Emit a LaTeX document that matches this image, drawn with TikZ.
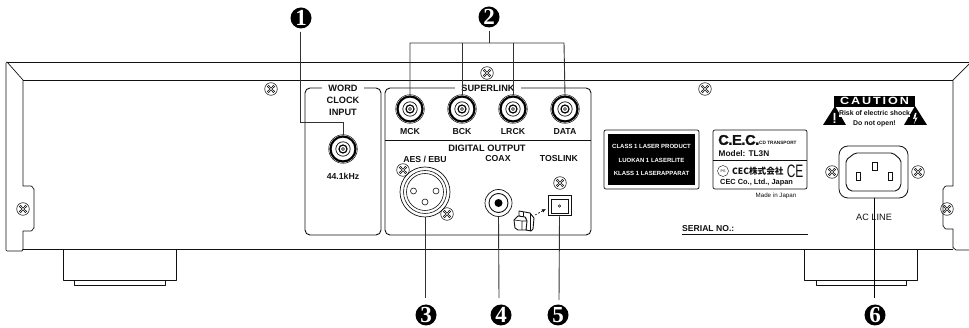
\documentclass[tikz,border=0pt]{standalone}
\usepackage{fontspec}
\setmainfont{Liberation Sans}
\newfontfamily\numfont{Liberation Serif}
\newfontfamily\cjkfont{Noto Sans CJK JP}
\usetikzlibrary{arrows.meta}
\definecolor{ink}{HTML}{111111}
\definecolor{lead}{HTML}{333333}
\tikzset{
 x=1pt,y=-1pt,
 body/.style={draw=ink,line width=0.7pt,line join=round},
 leader/.style={draw=lead,line width=0.9pt},
 callout/.style={circle,fill=black,text=white,inner sep=0pt,minimum size=21pt,font=\numfont\bfseries\fontsize{23}{23}\selectfont},
 lab/.style={inner sep=0pt,font=\bfseries\fontsize{8.7}{9}\selectfont,text=ink},
 panellab/.style={lab,fill=white,inner ysep=1pt},
 wlab/.style={inner sep=0pt,text=white,font=\bfseries\fontsize{6}{7}\selectfont},
}
\newcommand{\screw}[2]{%
 \draw[ink,line width=0.55pt] (#1,#2) circle[radius=6.3];
 \draw[ink,line width=0.55pt,line join=round] (#1-1,#2) -- (#1-3.6,#2-2.4) -- (#1-2.4,#2-3.6) -- (#1,#2-1) -- (#1+2.4,#2-3.6) -- (#1+3.6,#2-2.4) -- (#1+1,#2) -- (#1+3.6,#2+2.4) -- (#1+2.4,#2+3.6) -- (#1,#2+1) -- (#1-2.4,#2+3.6) -- (#1-3.6,#2+2.4) -- cycle;
}
\newcommand{\bnc}[3]{%
 \node[circle,draw=black,line width=2.2pt,fill=white,minimum size=25pt,inner sep=0pt] (#3) at (#1,#2) {};
 \draw[ink,line width=0.5pt] (#1,#2) circle[radius=14.3];
 \draw[ink,line width=0.7pt] (#1,#2) circle[radius=7.2];
 \draw[black,line width=1.2pt] (#1,#2) circle[radius=4];
 \draw[black,line width=0.6pt] (#1,#2) circle[radius=1.5];
}
\begin{document}
\begin{tikzpicture}
\useasboundingbox (0,0) rectangle (969,328);
% chassis
\draw[body] (23,80) -- (953,80);
\draw[body] (7,62) -- (969,62);
\draw[body] (6,63) -- (6,250) to[out=90,in=180] (7,251) -- (22,251) -- (23,249) -- (23,231) -- (31,231) to[out=0,in=90] (34,228) -- (34,189) to[out=-90,in=0] (31,186) -- (23,186) -- (23,80) -- (7,62) -- (6,63);
\draw[body] (23,249) -- (953,249);
\draw[body] (953,80) -- (953,186) -- (946,186) to[out=180,in=-90] (943,189) -- (943,226) to[out=90,in=180] (946,229) -- (953,229) -- (953,248) to[out=90,in=180] (956,250) -- (969,250);
\draw[body] (953,80) -- (969,64);
\draw[body] (63.5,249) -- (63.5,280) -- (176,280) -- (176,249);
\draw[body] (74.5,280) -- (74.5,285) -- (165,285) -- (165,280);
\draw[body] (804,249) -- (804,280) -- (917,280) -- (917,249);
\draw[body] (816,280) -- (816,285) -- (906,285) -- (906,280);
\screw{23}{209}\screw{271}{89}\screw{487}{73}\screw{705}{89}\screw{947}{209}
% panels
\draw[body,line width=0.9pt,rounded corners=5pt] (305,88) rectangle (381,235);
\draw[body,line width=0.9pt,rounded corners=5pt] (385,88) rectangle (591,235);
\draw[body,line width=0.9pt] (385,140) -- (591,140);
\node[panellab,inner xsep=6pt,font=\bfseries\fontsize{9.2}{10}\selectfont] (wc1) at (343,88) {WORD};
\node[lab,font=\bfseries\fontsize{9.2}{10}\selectfont] (wc2) at (343,100) {CLOCK};
\node[lab,font=\bfseries\fontsize{9.2}{10}\selectfont] (wc3) at (343,112) {INPUT};
\node[lab] (wc4) at (343,176) {44.1kHz};
\node[panellab,inner xsep=6pt,font=\bfseries\fontsize{9.2}{10}\selectfont] (sl) at (488,88) {SUPERLINK};
\bnc{343}{149}{wcin}
\bnc{410}{109}{mck}
\bnc{462}{109}{bck}
\bnc{513}{109}{lrck}
\bnc{565}{109}{data}
\node[lab] at (410,132) {MCK};
\node[lab] at (462,132) {BCK};
\node[lab] at (513,132) {LRCK};
\node[lab] at (565,132) {DATA};
\node[lab,font=\bfseries\fontsize{9.3}{10}\selectfont] at (487,148) {DIGITAL OUTPUT};
\node[lab] at (425,159) {AES / EBU};
\node[lab] at (498,159) {COAX};
\node[lab] at (559,159) {TOSLINK};
% XLR
\node[circle,draw=ink,line width=0.7pt,fill=white,minimum size=50pt,inner sep=0pt] (xlr) at (425,192) {};
\draw[ink,line width=0.6pt] (425,192) circle[radius=21.5] (425,192) circle[radius=18.5];
\draw[ink,line width=0.6pt] (413.5,191) circle[radius=3] (436,191) circle[radius=3] (425,202) circle[radius=3];
\screw{403}{170}\screw{447}{214}
% coax
\node[circle,draw=ink,line width=0.7pt,minimum size=27pt,inner sep=0pt] (coax) at (498.5,203) {};
\draw[ink,line width=0.9pt] (498.5,203) circle[radius=9.5];
\fill[black] (498.5,203) circle[radius=4];
% toslink
\node[draw=ink,line width=1pt,minimum width=23pt,minimum height=20pt,inner sep=0pt] (tos) at (559.5,206) {};
\draw[ink,line width=0.5pt] (551,199) rectangle (568,213);
\draw[ink,line width=0.5pt] (559.5,206) circle[radius=1.2];
\screw{560}{183}
% plug clip
\draw[ink,line width=0.9pt,fill=white,line join=round] (519,211) -- (530,213) -- (534,218) -- (533,229) -- (531,231) -- (526,230) -- (526,218) -- (519,216) -- cycle;
\draw[ink,line width=0.6pt] (523,212) -- (523,217) (530,213) -- (530,231);
\draw[ink,line width=0.9pt,fill=white,line join=round] (514,220) -- (518,216) -- (525,217) -- (527,221) -- (526,230) -- (518,230) -- (515,228) -- cycle;
\draw[ink,line width=0.6pt] (514,220) -- (522,221) -- (527,221) (522,221) -- (522,230);
\coordinate (clip) at (535,215);
\coordinate (tosin) at (546,209);
\draw[ink,line width=0.6pt,dash pattern=on 2pt off 1.5pt,-{Latex[length=4pt,width=3.5pt]}] (clip) -- (tosin);
% laser label
\draw[ink,line width=0.7pt,rounded corners=2pt] (604,130) rectangle (699,189);
\node[fill=black,minimum width=87pt,minimum height=51pt,inner sep=0pt] (laser) at (651.5,159.5) {};
\node[wlab] at (651.5,146) {CLASS 1 LASER PRODUCT};
\node[wlab] at (651.5,160) {LUOKAN 1 LASERLITE};
\node[wlab] at (651.5,173) {KLASS 1 LASERAPPARAT};
% CEC label
\draw[ink,line width=0.7pt,rounded corners=2pt] (713,130) rectangle (807,189);
\draw[ink,line width=0.7pt] (713,160) -- (807,160);
\node[lab,anchor=west,font=\bfseries\fontsize{14}{14}\selectfont\addfontfeature{FakeBold=1.5,LetterSpace=-3},xscale=1.05] at (718,140) {C.E.C.};
\node[lab,anchor=west,font=\bfseries\fontsize{4.7}{5}\selectfont] at (759,142.7) {CD TRANSPORT};
\node[lab,anchor=west,font=\bfseries\fontsize{8.3}{9}\selectfont] at (718.5,154) {Model: TL3N};
\draw[ink,line width=0.4pt] (723,171) circle[radius=5.5];
\node[inner sep=0pt,font=\fontsize{3.6}{4}\selectfont] at (723,171) {PS};
\node[lab,anchor=west,font=\cjkfont\bfseries\fontsize{8.6}{10}\selectfont] at (732,171) {CEC株式会社};
\node[lab,font=\fontsize{18}{18}\selectfont\mdseries,xscale=0.66] at (795,171) {CE};
\node[lab,anchor=west,font=\bfseries\fontsize{7.4}{8}\selectfont] at (720,183) {CEC Co., Ltd., Japan};
\node[lab,font=\fontsize{6.2}{7}\selectfont\mdseries] at (776,196) {Made in Japan};
\node[lab,anchor=west,font=\bfseries\fontsize{8.6}{9}\selectfont] at (682,229) {SERIAL NO.:};
\draw[ink,line width=0.7pt] (682,234) -- (808,234);
% caution
\fill[black] (834,96) rectangle (915,107);
\node[text=white,inner sep=0pt,font=\bfseries\fontsize{10.5}{11}\selectfont\addfontfeature{LetterSpace=15},xscale=1.2] (caut) at (874.5,101.2) {CAUTION};
\fill[black] (835,106) -- (846,125) -- (823,125) -- cycle;
\fill[black] (915,106) -- (927,125) -- (904,125) -- cycle;
\fill[white] (833.6,113) rectangle (835.4,120.5) (833.6,121.5) rectangle (835.4,123);
\fill[white] (915,113) -- (913,119) -- (915.5,118.5) -- (914,124) -- (917.5,117.5) -- (915.3,118) -- (916.5,113) -- cycle;
\node[lab,fill=white,inner xsep=0.5pt,inner ysep=0.5pt,font=\bfseries\fontsize{6.9}{7}\selectfont] at (874.5,113.5) {Risk of electric shock};
\node[lab,font=\bfseries\fontsize{6.9}{7}\selectfont] at (874.5,124) {Do not open!};
% AC inlet
\draw[ink,line width=0.8pt,rounded corners=9pt] (839,146) rectangle (908,198);
\draw[ink,line width=0.9pt,rounded corners=2pt] (846,160) -- (855,153) -- (893,153) -- (901,160) -- (901,186) -- (897,191) -- (850,191) -- (846,186) -- cycle;
\draw[ink,line width=0.8pt] (872.5,162) rectangle (877.5,170);
\draw[ink,line width=0.8pt] (856,172) rectangle (860,180);
\draw[ink,line width=0.8pt] (888,172) rectangle (892,180);
\coordinate (inlet) at (874,198);
\coordinate (inlete) at (874,298);
\screw{832}{172}\screw{918}{172}
\node[inner sep=0pt,font=\fontsize{9.2}{10}\selectfont,text=ink] at (874,217) {AC LINE};
% callouts
\node[callout] (c1) at (301,18) {1};
\node[callout] (c2) at (489,17) {2};
\node[callout] (c3) at (426,315) {3};
\node[callout] (c4) at (501,315) {4};
\node[callout] (c5) at (558,315) {5};
\node[callout] (c6) at (875,315) {6};
\draw[leader] (c1.south) ++(-1,3) |- (343,122) -- (wcin.north);
\draw[leader] (c2.south) ++(0,3) -- ++(0,12.5);
\draw[leader] (mck.north) -- (410,43) -- (564,43) -- (data.north);
\draw[leader] (bck.north) -- (462,43) (lrck.north) -- (513,43);
\draw[leader] (xlr.south) -- (425,298);
\draw[leader] (coax.south) -- (499,298);
\draw[leader] (tos.south) -- (559,300);
\draw[leader,line width=0.7pt,black] (inlet) -- (inlete);
\end{tikzpicture}
\end{document}
